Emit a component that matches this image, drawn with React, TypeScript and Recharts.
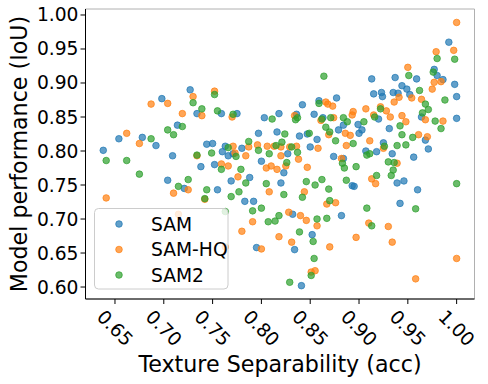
import React from 'react';
import { ScatterChart, Scatter, XAxis, YAxis, CartesianGrid } from 'recharts';

const xTicks = [0.65, 0.7, 0.75, 0.8, 0.85, 0.9, 0.95, 1.0];
const yTicks = [0.6, 0.65, 0.7, 0.75, 0.8, 0.85, 0.9, 0.95, 1.0];
const seriesNames = ['SAM', 'SAM-HQ', 'SAM2'];
const seriesColors = ['#1f77b4', '#ff7f0e', '#2ca02c'];

const samX = [0.727,0.698,0.734,0.714,0.654,0.678,0.692,0.638,0.744,0.750,0.759,0.709,0.763,0.760,0.766,0.738,0.752,0.704,0.721,0.755,0.769,0.775,0.803,0.818,0.836,0.842,0.854,0.859,0.877,0.797,0.816,0.839,0.847,0.857,0.780,0.771,0.800,0.827,0.850,0.823,0.788,0.820,0.783,0.792,0.832,0.852,0.834,0.795,0.841,0.913,0.937,0.959,0.977,0.980,0.986,0.992,0.998,1.000,0.915,0.923,0.924,0.935,0.940,0.944,0.949,0.952,1.000,0.920,0.964,0.931,0.879,0.884,0.899,0.900,0.903,0.968,0.925,0.907,0.918,0.934,0.956,0.971,0.939,0.946,0.960,0.942,0.882,0.893,0.895,0.884,0.874,0.863];
const samY = [0.890,0.877,0.855,0.838,0.818,0.820,0.808,0.801,0.810,0.811,0.855,0.793,0.807,0.799,0.793,0.777,0.780,0.757,0.745,0.743,0.756,0.855,0.849,0.855,0.854,0.868,0.854,0.874,0.878,0.826,0.828,0.822,0.825,0.817,0.804,0.796,0.785,0.796,0.806,0.768,0.761,0.753,0.726,0.726,0.707,0.677,0.655,0.658,0.602,0.906,0.908,0.906,0.920,0.911,0.905,0.960,0.898,0.880,0.884,0.886,0.880,0.886,0.885,0.896,0.891,0.883,0.848,0.847,0.850,0.833,0.831,0.838,0.839,0.826,0.831,0.816,0.812,0.800,0.799,0.796,0.791,0.803,0.753,0.756,0.743,0.723,0.705,0.749,0.748,0.789,0.792,0.849];

const hqX = [0.730,0.704,0.687,0.752,0.739,0.719,0.770,0.662,0.675,0.734,0.759,0.766,0.725,0.710,0.641,0.742,0.715,0.763,0.771,0.784,0.796,0.806,0.813,0.820,0.829,0.836,0.858,0.820,0.838,0.847,0.805,0.810,0.816,0.825,0.776,0.773,0.787,0.808,0.844,0.867,0.828,0.840,0.846,0.857,0.791,0.780,0.818,0.831,0.870,0.800,0.851,0.855,0.834,0.866,0.868,0.873,0.861,0.874,0.869,0.950,0.977,0.984,0.975,1.000,0.979,0.997,0.941,0.936,0.954,0.964,0.894,0.893,0.907,0.922,0.928,0.915,0.932,0.944,0.948,0.968,0.986,0.961,0.970,0.886,0.891,0.911,0.925,0.887,0.882,0.939,0.913,0.917,0.876,0.910,0.930,0.897,0.934,1.000,0.958];
const hqY = [0.880,0.870,0.869,0.888,0.852,0.855,0.850,0.826,0.811,0.793,0.781,0.778,0.743,0.738,0.731,0.729,0.707,0.659,0.807,0.793,0.809,0.807,0.807,0.806,0.806,0.807,0.804,0.793,0.788,0.776,0.775,0.778,0.773,0.778,0.762,0.797,0.806,0.740,0.740,0.722,0.710,0.705,0.698,0.690,0.696,0.682,0.674,0.666,0.659,0.656,0.622,0.624,0.852,0.872,0.869,0.866,0.845,0.849,0.824,0.923,0.901,0.902,0.891,0.989,0.946,0.948,0.879,0.872,0.878,0.876,0.858,0.853,0.862,0.865,0.859,0.853,0.850,0.852,0.843,0.846,0.844,0.824,0.821,0.826,0.823,0.815,0.804,0.808,0.789,0.782,0.759,0.752,0.724,0.694,0.689,0.673,0.666,0.642,0.612];

const sam2X = [0.730,0.752,0.739,0.755,0.719,0.704,0.710,0.687,0.641,0.662,0.675,0.734,0.749,0.766,0.759,0.725,0.715,0.744,0.742,0.769,0.763,0.864,0.771,0.811,0.835,0.837,0.859,0.862,0.871,0.866,0.870,0.824,0.849,0.876,0.787,0.821,0.815,0.831,0.797,0.774,0.808,0.837,0.826,0.779,0.784,0.805,0.777,0.823,0.842,0.846,0.855,0.862,0.869,0.870,0.791,0.800,0.818,0.814,0.807,0.857,0.867,0.839,0.853,0.854,0.851,0.829,0.951,0.976,0.980,0.998,0.962,0.988,0.968,0.971,0.965,0.922,0.916,0.884,0.888,0.905,0.978,0.984,0.942,0.944,0.955,0.926,0.894,0.948,0.939,0.908,0.911,0.930,0.936,0.935,0.933,0.918,0.883,0.885,0.897,0.887,1.000,0.958,0.908,0.913];
const sam2Y = [0.871,0.883,0.862,0.859,0.836,0.831,0.824,0.818,0.786,0.786,0.766,0.794,0.797,0.805,0.773,0.758,0.748,0.743,0.730,0.733,0.711,0.910,0.854,0.847,0.846,0.849,0.870,0.847,0.849,0.835,0.828,0.825,0.826,0.815,0.814,0.813,0.808,0.806,0.801,0.792,0.796,0.798,0.783,0.773,0.753,0.752,0.740,0.736,0.732,0.755,0.750,0.758,0.744,0.727,0.712,0.716,0.705,0.697,0.696,0.700,0.701,0.681,0.667,0.642,0.617,0.607,0.911,0.916,0.936,0.935,0.889,0.875,0.869,0.861,0.856,0.862,0.850,0.849,0.843,0.843,0.844,0.833,0.837,0.824,0.820,0.807,0.811,0.809,0.808,0.794,0.796,0.784,0.783,0.772,0.764,0.764,0.782,0.775,0.777,0.757,0.752,0.715,0.716,0.690];

const toPoints = (xs: number[], ys: number[]) => xs.map((x, i) => ({ x, y: ys[i] }));
const seriesData = [toPoints(samX, samY), toPoints(hqX, hqY), toPoints(sam2X, sam2Y)];

const FONT = 'DejaVu Sans';

const makeDot = (color: string) => (props: any) => {
  const { cx, cy } = props;
  if (cx == null || cy == null) return <g />;
  return <circle cx={cx} cy={cy} r={3.3} fill={color} fillOpacity={0.7} stroke={color} strokeOpacity={0.7} strokeWidth={1} />;
};

const XTick = (props: any) => {
  const { x, y, payload } = props;
  return (
    <g transform={`translate(${x},${y + 22})`}>
      <text transform="rotate(45)" textAnchor="middle" dominantBaseline="central" fontSize={18.7} fontFamily={FONT} fill="#000">
        {Number(payload.value).toFixed(2)}
      </text>
    </g>
  );
};

const YTick = (props: any) => {
  const { x, y, payload } = props;
  return (
    <text x={x} y={y} textAnchor="end" dominantBaseline="central" fontSize={18.7} fontFamily={FONT} fill="#000">
      {Number(payload.value).toFixed(2)}
    </text>
  );
};

const YTitle = (props: any) => {
  const vb = props.viewBox || { x: 0, y: 9, width: 85.5, height: 290 };
  const cy = vb.y + vb.height / 2;
  return (
    <text transform={`translate(19,${cy}) rotate(-90)`} textAnchor="middle" dominantBaseline="central" fontSize={22.2} fontFamily={FONT} fill="#000">
      Model performance (IoU)
    </text>
  );
};

export default function App() {
  return (
    <div style={{ position: 'absolute', left: 0, top: 0, width: 488, height: 384, background: '#fff' }}>
      <ScatterChart width={488} height={384} margin={{ top: 9, right: 13.5, left: 0, bottom: 0 }}>
        <CartesianGrid stroke="#b0b0b0" strokeWidth={1} />
        <XAxis
          xAxisId="main"
          type="number"
          dataKey="x"
          domain={[0.6198, 1.0183]}
          ticks={xTicks}
          allowDataOverflow
          height={85}
          tick={<XTick />}
          tickSize={5}
          stroke="#000"
          tickLine={{ stroke: '#000' }}
          label={{
            value: 'Texture Separability (acc)',
            position: 'insideBottom',
            offset: 12,
            fontSize: 22.2,
            fontFamily: FONT,
            fill: '#000',
          }}
        />
        <XAxis xAxisId="top" orientation="top" type="number" domain={[0, 1]} height={0} tick={false} tickLine={false} stroke="#000" />
        <YAxis
          yAxisId="main"
          type="number"
          dataKey="y"
          domain={[0.5824, 1.0088]}
          ticks={yTicks}
          allowDataOverflow
          width={85.5}
          tick={<YTick />}
          tickSize={5}
          stroke="#000"
          tickLine={{ stroke: '#000' }}
          label={<YTitle />}
        />
        <YAxis yAxisId="right" orientation="right" type="number" domain={[0, 1]} width={0} tick={false} tickLine={false} stroke="#000" />
        {seriesData.map((d, i) => (
          <Scatter
            key={seriesNames[i]}
            name={seriesNames[i]}
            data={d}
            xAxisId="main"
            yAxisId="main"
            fill={seriesColors[i]}
            shape={makeDot(seriesColors[i])}
            isAnimationActive={false}
          />
        ))}
      </ScatterChart>
      <svg style={{ position: 'absolute', left: 94, top: 208 }} width={135} height={82}>
        <rect x={0.5} y={0.5} width={133.5} height={80.5} rx={4} ry={4} fill="#fff" fillOpacity={0.8} stroke="#cccccc" strokeWidth={1} />
        {seriesNames.map((n, i) => (
          <g key={n}>
            <circle cx={25} cy={16 + i * 25.5} r={3.3} fill={seriesColors[i]} fillOpacity={0.7} stroke={seriesColors[i]} strokeOpacity={0.7} strokeWidth={1} />
            <text x={57} y={16 + i * 25.5} dominantBaseline="central" fontSize={18.7} fontFamily={FONT} fill="#000">{n}</text>
          </g>
        ))}
      </svg>
    </div>
  );
}
